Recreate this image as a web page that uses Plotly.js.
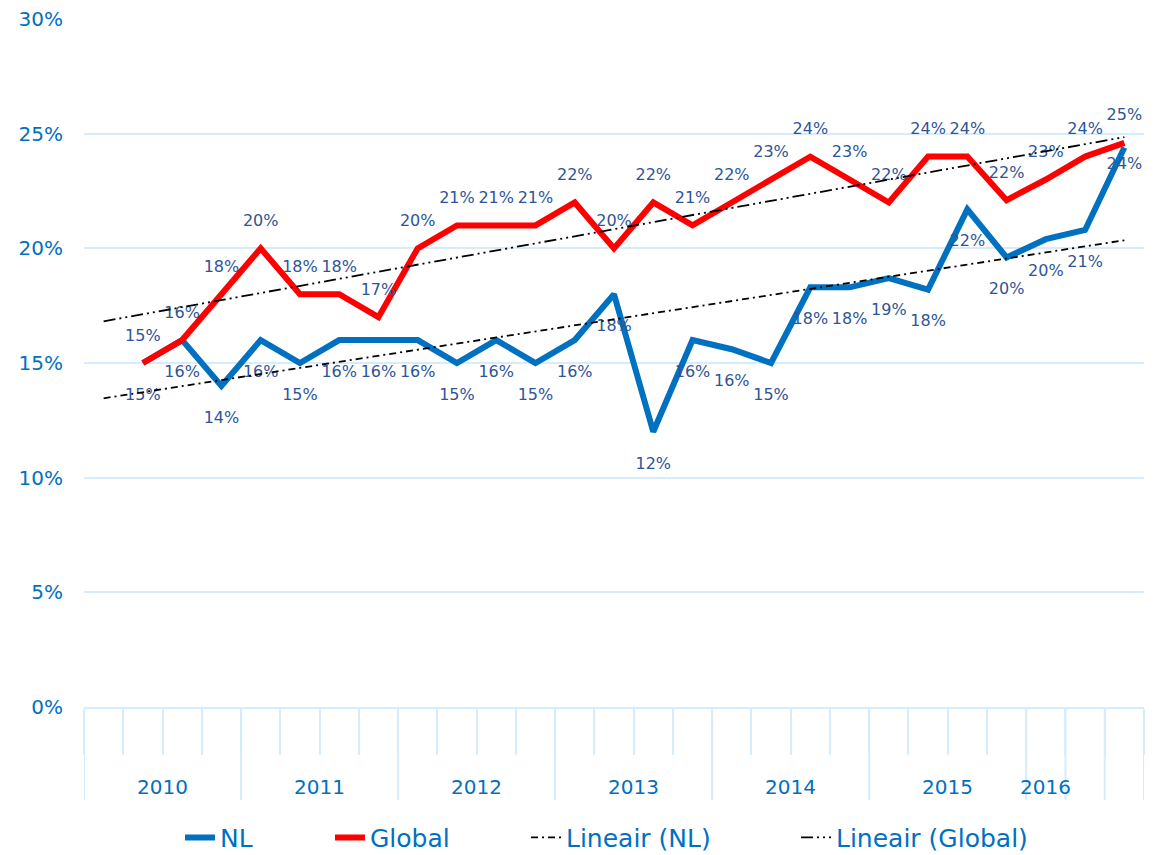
<!DOCTYPE html>
<html>
<head>
<meta charset="utf-8">
<script src="https://cdn.plot.ly/plotly-3.0.1.min.js"></script>
<style>html,body{margin:0;padding:0;background:#fff;}#chart{width:1159px;height:855px;}</style>
</head>
<body>
<div id="chart"></div>
<script>
// Outer category groups (years) and how many quarterly slots each spans
const yearLabels = ['2010', '2011', '2012', '2013', '2014', '2015', '2016', '', ''];
const yearSlotCounts = [4, 4, 4, 4, 4, 4, 1, 1, 1];

// Series values (%), one per slot; first slot is empty
const nlValues = [null, 15, 16, 14, 16, 15, 16, 16, 16, 15, 16, 15, 16, 18, 12, 16, 15.6, 15,
  18.3, 18.3, 18.7, 18.2, 21.7, 19.6, 20.4, 20.8, 24.4];
const globalValues = [null, 15, 16, 18, 20, 18, 18, 17, 20, 21, 21, 21, 22, 20, 22, 21, 22, 23,
  24, 23, 22, 24, 24, 22.1, 23, 24, 24.6];

const seriesNames = ['NL', 'Global', 'Lineair (NL)', 'Lineair (Global)'];

const nSlots = yearSlotCounts.reduce((a, b) => a + b, 0);
const slotIdx = Array.from({length: nSlots}, (_, i) => i);

function linFit(vals) {
  const xs = [], ys = [];
  vals.forEach((v, i) => { if (v !== null) { xs.push(i); ys.push(v); } });
  const n = xs.length;
  const mx = xs.reduce((a, b) => a + b, 0) / n;
  const my = ys.reduce((a, b) => a + b, 0) / n;
  let sxy = 0, sxx = 0;
  for (let i = 0; i < n; i++) { sxy += (xs[i] - mx) * (ys[i] - my); sxx += (xs[i] - mx) ** 2; }
  const b = sxy / sxx, a = my - b * mx;
  const x0 = 0, x1 = nSlots - 1;
  return {x: [x0, x1], y: [a + b * x0, a + b * x1]};
}

const labelColor = '#2E5597';
const axisBlue = '#0070C0';
const gridColor = '#D4ECFB';
const fontFam = 'DejaVu Sans, Verdana, sans-serif';
const clear = 'rgba(0,0,0,0)';

const nlText = nlValues.map(v => v === null ? '' : Math.round(v) + '%');
const glText = globalValues.map(v => v === null ? '' : Math.round(v) + '%');
const lastIdx = nSlots - 1;
const nlMarkerSize = nlValues.map((v, i) => i === lastIdx ? 14 : 38);

const trNL = linFit(nlValues);
const trGL = linFit(globalValues);

const traces = [
  {
    x: slotIdx, y: nlValues, name: seriesNames[0], type: 'scatter', mode: 'lines+markers+text',
    legend: 'legend',
    line: {color: '#0070C0', width: 6},
    marker: {size: nlMarkerSize, color: clear, line: {width: 0, color: clear}},
    text: nlText, textposition: 'bottom center',
    textfont: {family: fontFam, size: 16, color: labelColor},
    cliponaxis: false, hoverinfo: 'y'
  },
  {
    x: slotIdx, y: globalValues, name: seriesNames[1], type: 'scatter', mode: 'lines+markers+text',
    legend: 'legend2',
    line: {color: '#FF0000', width: 6},
    marker: {size: 28, color: clear, line: {width: 0, color: clear}},
    text: glText, textposition: 'top center',
    textfont: {family: fontFam, size: 16, color: labelColor},
    cliponaxis: false, hoverinfo: 'y'
  },
  {
    x: trNL.x, y: trNL.y, name: seriesNames[2], type: 'scatter', mode: 'lines',
    legend: 'legend3',
    line: {color: '#000000', width: 1.8, dash: '7px,4px,2px,4px'}, hoverinfo: 'skip'
  },
  {
    x: trGL.x, y: trGL.y, name: seriesNames[3], type: 'scatter', mode: 'lines',
    legend: 'legend4',
    line: {color: '#000000', width: 1.8, dash: '12px,4px,2px,4px,2px,4px'}, hoverinfo: 'skip'
  }
];

// Slot boundaries for short ticks; group boundaries for long dividers
const slotBounds = Array.from({length: nSlots + 1}, (_, i) => i - 0.5);
const shapes = [];
const annotations = [];
let start = -0.5;
shapes.push({type: 'line', xref: 'x', yref: 'paper', x0: start, x1: start, y0: 0, y1: -0.135,
  line: {color: gridColor, width: 2}});
yearSlotCounts.forEach((c, gi) => {
  const end = start + c;
  shapes.push({type: 'line', xref: 'x', yref: 'paper', x0: end, x1: end, y0: 0, y1: -0.135,
    line: {color: gridColor, width: 2}});
  if (yearLabels[gi]) {
    annotations.push({xref: 'x', yref: 'paper', x: start + c / 2, y: -0.116, text: yearLabels[gi],
      showarrow: false, xanchor: 'center', yanchor: 'middle',
      font: {family: fontFam, size: 20, color: axisBlue}});
  }
  start = end;
});

function legendAt(px) {
  return {
    orientation: 'h', xref: 'container', x: px / 1159, xanchor: 'left', y: -0.19, yanchor: 'middle',
    font: {family: fontFam, size: 25, color: axisBlue}, bgcolor: clear
  };
}

const layout = {
  width: 1159, height: 855,
  margin: {l: 84, r: 15, t: 19, b: 148, autoexpand: false},
  paper_bgcolor: '#ffffff', plot_bgcolor: '#ffffff',
  showlegend: true,
  legend: legendAt(180),
  legend2: legendAt(330),
  legend3: legendAt(526),
  legend4: legendAt(796),
  xaxis: {
    type: 'linear', range: [-0.5, nSlots - 0.5], showgrid: false, zeroline: false,
    tickmode: 'array', tickvals: slotBounds, showticklabels: false,
    ticks: 'outside', ticklen: 46, tickwidth: 2, tickcolor: gridColor,
    showline: true, linecolor: gridColor, linewidth: 2, fixedrange: true
  },
  yaxis: {
    range: [0, 30], dtick: 5, tick0: 0, ticksuffix: '%', showgrid: true, gridcolor: gridColor, gridwidth: 1.5,
    zeroline: false, showline: false, ticks: '', ticklabelstandoff: 20,
    tickfont: {family: fontFam, size: 20, color: axisBlue}, fixedrange: true
  },
  shapes: shapes,
  annotations: annotations
};

Plotly.newPlot('chart', traces, layout, {displayModeBar: false, responsive: false});
</script>
</body>
</html>
